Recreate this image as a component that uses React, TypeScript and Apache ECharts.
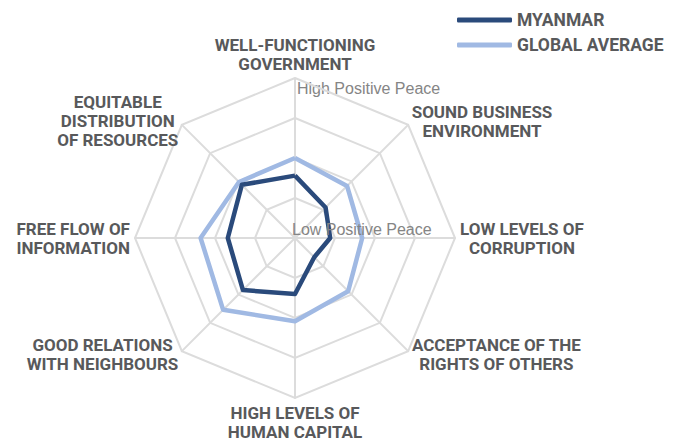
import React, { useEffect, useRef } from "react";
import * as echarts from "echarts";

// Indicators in ECharts' counter-clockwise order starting from the top
const indicators = [
  "WELL-FUNCTIONING\nGOVERNMENT",
  "EQUITABLE\nDISTRIBUTION\nOF RESOURCES",
  "FREE FLOW OF\nINFORMATION",
  "GOOD RELATIONS\nWITH NEIGHBOURS",
  "HIGH LEVELS OF\nHUMAN CAPITAL",
  "ACCEPTANCE OF THE\nRIGHTS OF OTHERS",
  "LOW LEVELS OF\nCORRUPTION",
  "SOUND BUSINESS\nENVIRONMENT",
];
const myanmar = [0.39, 0.47, 0.42, 0.46, 0.35, 0.17, 0.22, 0.27];
const globalAverage = [0.5, 0.495, 0.59, 0.635, 0.52, 0.47, 0.42, 0.46];
const seriesNames = ["MYANMAR", "GLOBAL AVERAGE"];
const scaleLabels = ["High Positive Peace", "Low Positive Peace"];

const LABEL_FONT = "Roboto, 'Noto Sans', sans-serif";
const LABEL_COLOR = "#58595b";
const DARK = "#2a4a7b";
const LIGHT = "#a0b9e3";

export default function App() {
  const ref = useRef<HTMLDivElement>(null);
  useEffect(() => {
    document.body.style.margin = "0";
    if (!ref.current) return;
    const chart = echarts.init(ref.current, null, { renderer: "svg" });
    chart.setOption({
      animation: false,
      backgroundColor: "#ffffff",
      legend: {
        orient: "vertical",
        left: 457,
        top: 10,
        padding: 0,
        itemWidth: 55,
        itemHeight: 5,
        itemGap: 5,
        icon: "roundRect",
        data: seriesNames,
        textStyle: {
          fontFamily: LABEL_FONT,
          fontWeight: "bold",
          fontSize: 17.5,
          color: LABEL_COLOR,
          lineHeight: 20,
        },
      },
      radar: {
        center: [295, 238],
        radius: 160,
        shape: "polygon",
        splitNumber: 4,
        startAngle: 90,
        nameGap: 5,
        indicator: indicators.map((name) => ({ name, min: 0, max: 1 })),
        axisName: {
          formatter: (name: string) =>
            name
              .split("\n")
              .map((l) => `{a|${l}}`)
              .join("\n"),
          rich: {
            a: {
              align: "center",
              fontFamily: LABEL_FONT,
              fontWeight: "bold",
              fontSize: 17,
              lineHeight: 19,
              color: LABEL_COLOR,
            },
          },
        },
        axisLine: { lineStyle: { color: "#dcdcdc", width: 2 } },
        splitLine: { lineStyle: { color: "#dcdcdc", width: 2 } },
        splitArea: { show: false },
        axisTick: { show: false },
        axisLabel: { show: false },
      },
      graphic: [
        {
          type: "text",
          left: 297,
          top: 80,
          silent: true,
          style: {
            text: scaleLabels[0],
            fontFamily: "'Liberation Sans', Arial, sans-serif",
            fontSize: 16,
            fill: "#858585",
          },
        },
        {
          type: "text",
          left: 292,
          top: 221,
          silent: true,
          z: 100,
          style: {
            text: scaleLabels[1],
            fontFamily: "'Liberation Sans', Arial, sans-serif",
            fontSize: 16,
            fill: "#858585",
          },
        },
      ],
      series: [
        {
          type: "radar",
          symbol: "none",
          data: [
            {
              name: seriesNames[1],
              value: globalAverage,
              lineStyle: { color: LIGHT, width: 4.5 },
              itemStyle: { color: LIGHT },
            },
            {
              name: seriesNames[0],
              value: myanmar,
              lineStyle: { color: DARK, width: 4.5 },
              itemStyle: { color: DARK },
            },
          ],
        },
      ],
    });
    return () => chart.dispose();
  }, []);
  return <div ref={ref} style={{ width: 681, height: 442 }} />;
}
